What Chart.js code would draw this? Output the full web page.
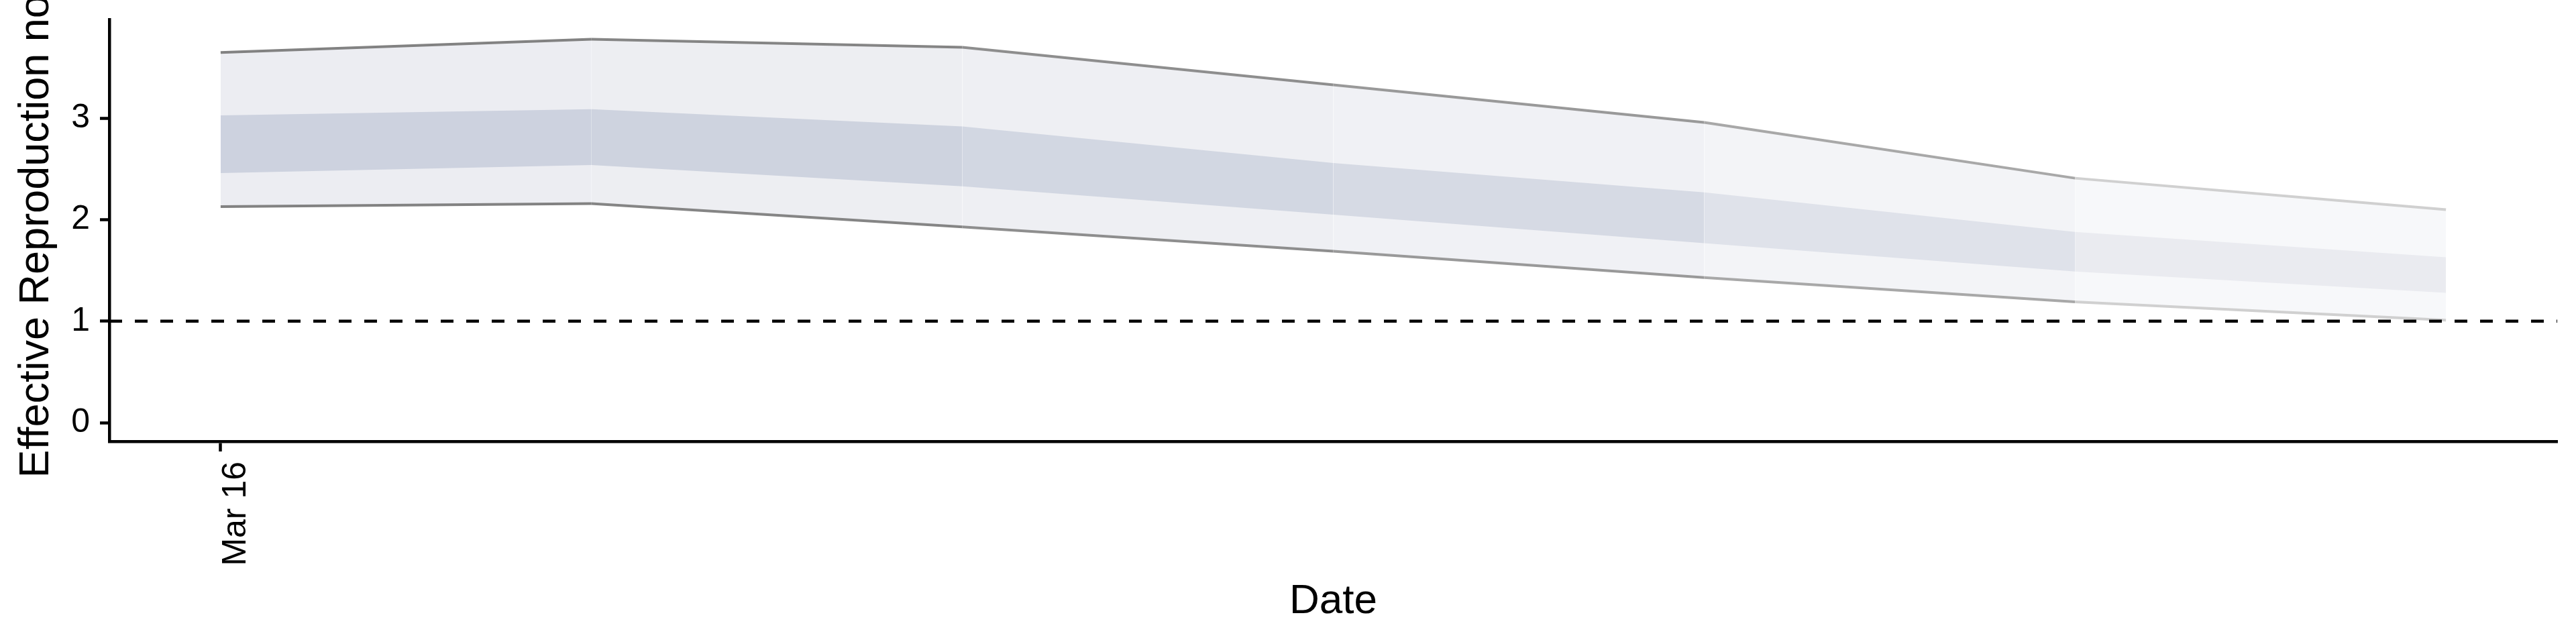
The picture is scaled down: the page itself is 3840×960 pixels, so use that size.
<!DOCTYPE html>
<html>
<head>
<meta charset="utf-8">
<script src="https://cdn.jsdelivr.net/npm/chart.js@4.4.1/dist/chart.umd.min.js"></script>
<style>
  html, body { margin: 0; padding: 0; background: #fff; }
  #wrap { width: 3840px; height: 960px; }
</style>
</head>
<body>
<div id="wrap"><canvas id="rtChart" width="3840" height="960"></canvas></div>
<script>
// dates (one point per day), only the first one gets a tick label
var dates = ['Mar 16', 'Mar 17', 'Mar 18', 'Mar 19', 'Mar 20', 'Mar 21', 'Mar 22'];
var xTickIndex = [0];
var yTickValues = [0, 1, 2, 3];

// credible intervals
var outerUpper = [3.65, 3.78, 3.70, 3.33, 2.96, 2.41, 2.10];
var innerUpper = [3.03, 3.09, 2.92, 2.56, 2.27, 1.88, 1.63];
var innerLower = [2.46, 2.54, 2.33, 2.05, 1.77, 1.49, 1.28];
var outerLower = [2.13, 2.16, 1.93, 1.69, 1.43, 1.19, 1.01];
var threshold = 1;

// segment colours fade out towards the end
var outerFill = ['#ecedf2', '#edeef2', '#eeeff3', '#f0f1f5', '#f3f4f7', '#f7f8fa'];
var innerFill = ['#cdd2df', '#ced3df', '#d2d7e2', '#d6dae4', '#dfe2ea', '#eaebf0'];
var edgeColor = ['#828282', '#858585', '#8e8e8e', '#999999', '#a8a8a8', '#d0d0d0'];

function pts(values) {
    return values.map(function (v, i) { return { x: i, y: v }; });
}

var FONT = 'Liberation Sans, Arial, Helvetica, sans-serif';

var ctx = document.getElementById('rtChart').getContext('2d');
var rtChart = new Chart(ctx, {
    type: 'line',
    data: {
        datasets: [{
            // dashed reference line at R = 1
            data: [{ x: -0.3, y: threshold }, { x: dates.length - 0.7, y: threshold }],
            borderColor: '#000',
            borderWidth: 4.5,
            borderDash: [19, 19],
            fill: false
        }, {
            data: pts(innerUpper),
            borderWidth: 0,
            fill: '+1',
            segment: {
                backgroundColor: function (c) { return innerFill[c.p0DataIndex]; }
            }
        }, {
            data: pts(innerLower),
            borderWidth: 0,
            fill: false
        }, {
            data: pts(outerUpper),
            borderWidth: 4,
            fill: '+1',
            segment: {
                backgroundColor: function (c) { return outerFill[c.p0DataIndex]; },
                borderColor: function (c) { return edgeColor[c.p0DataIndex]; }
            }
        }, {
            data: pts(outerLower),
            borderWidth: 4,
            fill: false,
            segment: {
                borderColor: function (c) { return edgeColor[c.p0DataIndex]; }
            }
        }]
    },
    options: {
        responsive: false,
        animation: false,
        events: [],
        elements: {
            point: { radius: 0 },
            line: { tension: 0, borderCapStyle: 'butt' }
        },
        layout: {
            autoPadding: false,
            padding: { left: 0, right: 28, top: 29, bottom: 0 }
        },
        plugins: {
            legend: { display: false },
            tooltip: { enabled: false },
            filler: { drawTime: 'beforeDatasetsDraw', propagate: false }
        },
        scales: {
            x: {
                type: 'linear',
                min: -0.3,
                max: dates.length - 0.7,
                afterBuildTicks: function (scale) {
                    scale.ticks = xTickIndex.map(function (i) { return { value: i }; });
                },
                afterFit: function (scale) {
                    scale.height = 302;
                    scale.paddingLeft = 0;
                    scale.paddingRight = 0;
                },
                grid: {
                    drawOnChartArea: false,
                    drawTicks: true,
                    tickLength: 15,
                    tickWidth: 4.5,
                    tickColor: '#000'
                },
                border: { display: true, color: '#000', width: 4.5 },
                ticks: {
                    autoSkip: false,
                    minRotation: 90,
                    maxRotation: 90,
                    labelOffset: 23,
                    padding: 15,
                    color: '#000',
                    font: { family: FONT, size: 50 },
                    callback: function (v) { return dates[v]; }
                },
                title: {
                    display: true,
                    text: 'Date',
                    color: '#000',
                    font: { family: FONT, size: 62 },
                    padding: { top: 0, bottom: 26 }
                }
            },
            y: {
                min: -0.185,
                max: 3.975,
                afterBuildTicks: function (scale) {
                    scale.ticks = yTickValues.map(function (v) { return { value: v }; });
                },
                afterFit: function (scale) {
                    scale.width = 163;
                    scale.paddingTop = 0;
                    scale.paddingBottom = 0;
                },
                grid: {
                    drawOnChartArea: false,
                    drawTicks: true,
                    tickLength: 14,
                    tickWidth: 4.5,
                    tickColor: '#000'
                },
                border: { display: true, color: '#000', width: 4.5 },
                ticks: {
                    padding: 15,
                    color: '#000',
                    font: { family: FONT, size: 50 }
                },
                title: {
                    display: true,
                    text: 'Effective Reproduction no.',
                    color: '#000',
                    font: { family: FONT, size: 63 },
                    padding: { top: 17, bottom: 0 }
                }
            }
        }
    }
});
</script>
</body>
</html>
